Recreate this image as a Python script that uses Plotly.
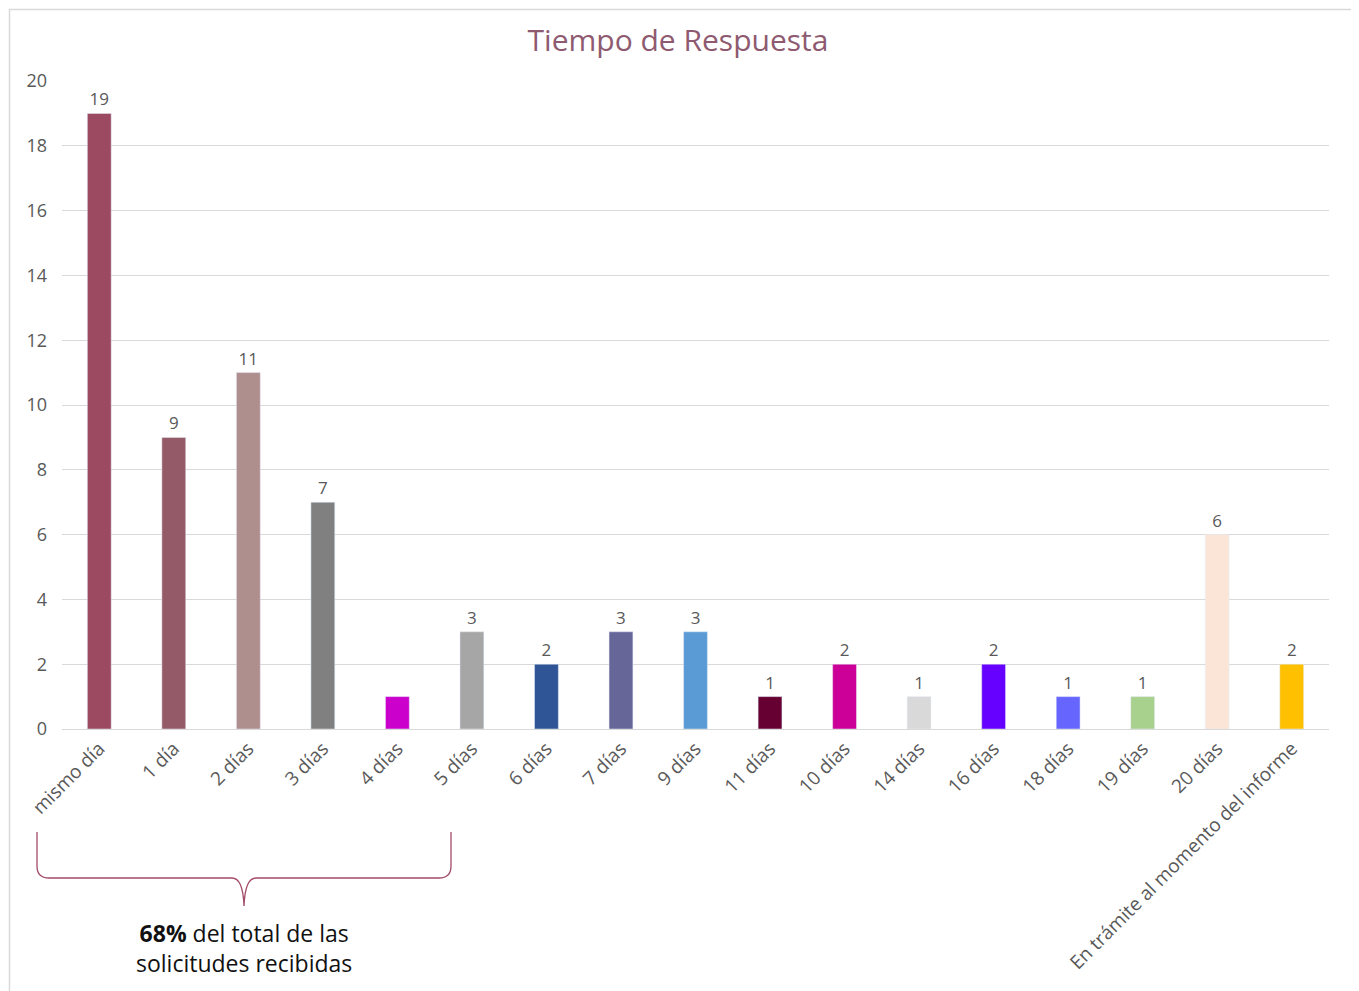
import plotly.graph_objects as go

categories = ["mismo día", "1 día", "2 días", "3 días", "4 días", "5 días", "6 días",
              "7 días", "9 días", "11 días", "10 días", "14 días", "16 días", "18 días",
              "19 días", "20 días", "En trámite al momento del informe"]
values = [19, 9, 11, 7, 1, 3, 2, 3, 3, 1, 2, 1, 2, 1, 1, 6, 2]
bar_labels = ["19", "9", "11", "7", "", "3", "2", "3", "3", "1", "2", "1", "2", "1", "1", "6", "2"]
colors = ["#9C4A62", "#955A68", "#AF8E8E", "#808080", "#CC00CC", "#A6A6A6", "#2F5597",
          "#666699", "#5B9BD5", "#660033", "#CC0099", "#D9D9D9", "#6600FF", "#6666FF",
          "#A9D18E", "#FBE5D6", "#FFC000"]
y_ticks = [0, 2, 4, 6, 8, 10, 12, 14, 16, 18, 20]

W, H = 1359, 991
OFF = 8  # page offset of the figure
ML, MT = 62 - OFF, 81 - OFF
PLOT_R, PLOT_B = 1329 - OFF, 729 - OFF
MR, MB = W - PLOT_R, H - PLOT_B
PW, PH = W - ML - MR, H - MT - MB

def px(x, y):
    # page pixel coordinates -> paper coordinates
    return (x - OFF - ML) / PW, (PLOT_B - (y - OFF)) / PH

FONT = "Open Sans"
GRAY = "#595959"

fig = go.Figure(go.Bar(
    x=categories, y=values, marker_color=colors, width=0.32,
    text=bar_labels, textposition="outside", cliponaxis=False,
    textfont=dict(size=17, color=GRAY, family=FONT),
))

def P(x, y):
    a, b = px(x, y)
    return f"{a:.5f},{b:.5f}"
path = (f"M {P(37,832)} L {P(37,866)} Q {P(37,878)} {P(49,878)} L {P(232,878)} "
        f"Q {P(243,878)} {P(244,906)} Q {P(245,878)} {P(256,878)} L {P(439,878)} "
        f"Q {P(451,878)} {P(451,866)} L {P(451,832)}")

x0, y0 = px(9.5, 9.5)
x1, y1 = px(1352, 1010)
fig.update_layout(
    width=W, height=H,
    margin=dict(l=ML, r=MR, t=MT, b=MB),
    paper_bgcolor="white", plot_bgcolor="white",
    showlegend=False,
    bargap=0.68,
    title=dict(text="Tiempo de Respuesta", x=px(678, 0)[0], xref="paper", xanchor="center",
               y=1 - (40 - OFF) / H, yanchor="middle",
               font=dict(size=30, color="#8E5A70", family=FONT)),
    font=dict(family=FONT, color=GRAY),
    xaxis=dict(tickangle=-45, tickfont=dict(size=19, color=GRAY, family=FONT),
               showline=True, linecolor="#D9D9D9", ticks=""),
    yaxis=dict(range=[0, 20], tickvals=y_ticks, showgrid=True, gridcolor="#D9D9D9",
               zeroline=False, tickfont=dict(size=18, color=GRAY, family=FONT),
               ticklabelstandoff=14),
    shapes=[
        dict(type="path", path=path, xref="paper", yref="paper",
             line=dict(color="#A24A68", width=1.3)),
        dict(type="rect", xref="paper", yref="paper", x0=x0, y0=y1, x1=x1, y1=y0,
             line=dict(color="#D9D9D9", width=1.5), fillcolor="rgba(0,0,0,0)", layer="below"),
    ],
    annotations=[
        dict(text="<b>68%</b> del total de las<br>solicitudes recibidas",
             x=px(244, 0)[0], y=px(0, 948)[1], xref="paper", yref="paper",
             showarrow=False, xanchor="center", yanchor="middle",
             font=dict(size=23, color="#111111", family=FONT)),
    ],
)

fig.write_html("out.html")
